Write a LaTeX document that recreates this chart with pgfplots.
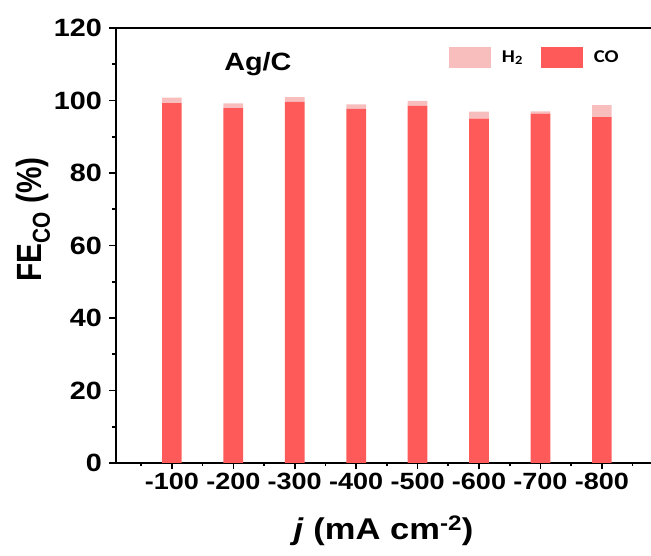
\documentclass[border=0pt]{standalone}
\usepackage{fontspec}
\setmainfont{Liberation Sans}[FakeStretch=1.15]
\newfontfamily\rotfont{Liberation Sans}[FakeStretch=0.85]
\newfontfamily\legfont{Carlito}[FakeStretch=1.15]
\usepackage{pgfplots}
\pgfplotsset{compat=1.18}

\definecolor{coRed}{HTML}{FF5A5A}
\definecolor{hPink}{HTML}{F8BEBE}

\begin{document}
\begin{tikzpicture}
\begin{axis}[
    at={(0pt,0pt)}, anchor=south west,
    scale only axis, width=545pt, height=435pt,
    ybar stacked, bar width=19.7pt,
    xmin=0.09, xmax=8.963, ymin=0, ymax=120,
    clip=false,
    axis lines*=left,
    axis line style={line width=2pt, line cap=rect},
    tick align=outside,
    major tick length=6.5pt, minor tick length=3.5pt,
    tick style={line width=1.6pt, black},
    ytick={0,20,...,120}, minor y tick num=1,
    xtick={1,...,8},
    xticklabels={-100,-200,-300,-400,-500,-600,-700,-800},
    minor xtick={0.5,1.5,...,8.5},
    /pgf/number format/assume math mode=true,
    yticklabel style={font=\fontsize{25}{25}\selectfont\bfseries, xshift=-4pt},
    xticklabel style={font=\fontsize{23.5}{23.5}\selectfont\bfseries},
    xlabel={\textit{j} (mA cm\textsuperscript{-2})},
    every axis x label/.style={at={(axis description cs:0.491,-0.156)}, anchor=center,
        font=\fontsize{30}{30}\selectfont\bfseries},
    ylabel={FE\textsubscript{CO} (\%)},
    every axis y label/.style={at={(axis description cs:-0.152,0.56)}, anchor=center, rotate=90,
        font=\rotfont\fontsize{35}{35}\selectfont\bfseries},
    legend columns=2, reverse legend,
    legend image code/.code={\path[#1, draw=none] (0pt,-10.5pt) rectangle (42pt,10.5pt);},
    legend style={draw=none, fill=none, inner sep=0pt,
        at={(axis description cs:0.6106,0.933)}, anchor=west,
        font=\legfont\fontsize{18}{18}\selectfont\bfseries,
        nodes={inner sep=0pt},
        /tikz/every odd column/.append style={column sep=11pt},
        /tikz/every even column/.append style={column sep=18pt}},
]
\addplot[fill=coRed, draw=none] coordinates {
    (1,99.3) (2,97.9) (3,99.6) (4,97.7) (5,98.5) (6,95.0) (7,96.4) (8,95.4)};
\addplot[fill=hPink, draw=none] coordinates {
    (1,1.5) (2,1.3) (3,1.3) (4,1.2) (5,1.4) (6,1.9) (7,0.6) (8,3.3)};
\legend{CO, H\textsubscript{2}}
\draw[line width=2pt, line cap=rect] (rel axis cs:0,1) -- (rel axis cs:1,1);
\node[anchor=base west, inner sep=0pt, font=\fontsize{25}{25}\selectfont\bfseries]
    at (axis cs:1.85,108.4) {Ag/C};
\end{axis}
\pgfresetboundingbox
\useasboundingbox (-116pt,-93pt) rectangle (535pt,463pt);
\end{tikzpicture}
\end{document}
